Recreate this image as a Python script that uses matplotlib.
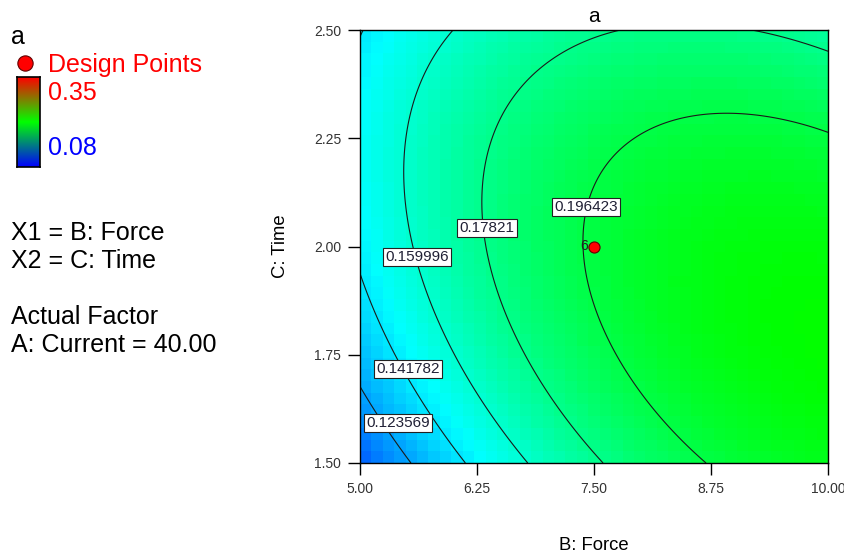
import numpy as np
import matplotlib
matplotlib.use("Agg")
import matplotlib.pyplot as plt
from matplotlib.colors import LinearSegmentedColormap
from matplotlib.lines import Line2D

plt.rcParams["font.family"] = ["Liberation Sans", "DejaVu Sans"]

# Factor ranges (actual units) and axis ticks
force_range = [5.0, 10.0]
time_range = [1.5, 2.5]
force_ticks = [5.00, 6.25, 7.50, 8.75, 10.00]
time_ticks = [1.50, 1.75, 2.00, 2.25, 2.50]

# Fitted quadratic model for response "a" in coded factors, A: Current = 40.00
# terms: intercept, B, C, BC, B^2, C^2
model_terms = ["I", "B", "C", "BC", "B2", "C2"]
model_coefs = [0.198044, 0.033710, 0.000227, -0.018007, -0.019957, -0.021579]

# Contour levels and where their labels sit (B, C)
contour_levels = [0.123569, 0.141782, 0.159996, 0.17821, 0.196423]
label_force = [5.406, 5.513, 5.609, 6.357, 7.415]
label_time = [1.592, 1.717, 1.976, 2.043, 2.091]

# Design points (center point with replicates)
design_force = [7.5]
design_time = [2.0]
design_reps = [6]

# Colour scale limits
color_low, color_high = 0.08, 0.35


def predict(force, time):
    c = dict(zip(model_terms, model_coefs))
    x1 = (force - np.mean(force_range)) / (np.diff(force_range)[0] / 2)
    x2 = (time - np.mean(time_range)) / (np.diff(time_range)[0] / 2)
    return (c["I"] + c["B"] * x1 + c["C"] * x2 + c["BC"] * x1 * x2
            + c["B2"] * x1 ** 2 + c["C2"] * x2 ** 2)


W, H = 845, 556
fig = plt.figure(figsize=(W / 100, H / 100), dpi=100)

surface_cmap = LinearSegmentedColormap.from_list(
    "surface", ["#0000ff", "#00ffff", "#00ff00", "#ffff00", "#ff0000"])
legend_cmap = LinearSegmentedColormap.from_list(
    "legend", ["#0000ff", "#00ff00", "#ff0000"])

ax = fig.add_axes([360 / W, 93 / H, 468 / W, 433 / H])

# shaded surface on a coarse grid of cells
ne_x, ne_y = 41, 37
bx = np.linspace(*force_range, ne_x + 1)
by = np.linspace(*time_range, ne_y + 1)
cx = 0.5 * (bx[:-1] + bx[1:])
cy = 0.5 * (by[:-1] + by[1:])
CX, CY = np.meshgrid(cx, cy)
ax.pcolormesh(bx, by, predict(CX, CY), cmap=surface_cmap,
              vmin=color_low, vmax=color_high, shading="flat", zorder=1)

# contour lines on a fine grid
fx = np.linspace(*force_range, 300)
fy = np.linspace(*time_range, 300)
FX, FY = np.meshgrid(fx, fy)
ax.contour(FX, FY, predict(FX, FY), levels=contour_levels,
           colors="#1a1a1a", linewidths=0.8, zorder=2)

for lvl, bxl, byl in zip(contour_levels, label_force, label_time):
    ax.text(bxl, byl, f"{lvl:g}", fontsize=11, color="#202035",
            ha="center", va="center", zorder=4,
            bbox=dict(boxstyle="square,pad=0.15", fc="white",
                      ec="#222222", lw=0.8))

# design point
ax.plot(design_force, design_time, "o", ms=8, mfc="#ff0000",
        mec="#600000", mew=0.8, zorder=5)
for f, t, n in zip(design_force, design_time, design_reps):
    ax.annotate(str(n), (f, t), xytext=(-4, 0), textcoords="offset points",
                ha="right", va="center", fontsize=10, color="#222222",
                zorder=5)

ax.set_xlim(*force_range)
ax.set_ylim(*time_range)
ax.set_xticks(force_ticks)
ax.set_yticks(time_ticks)
ax.set_xticklabels([f"{v:.2f}" for v in force_ticks])
ax.set_yticklabels([f"{v:.2f}" for v in time_ticks])
ax.tick_params(direction="out", length=8.5, width=1, colors="black",
               labelcolor="#333333", labelsize=10, pad=5)
for s in ax.spines.values():
    s.set_linewidth(1)
    s.set_color("black")

ax.set_title("a", fontsize=15, pad=6)
ax.set_xlabel("B: Force", fontsize=13.3)
ax.xaxis.set_label_coords(0.5, -0.172)
ax.set_ylabel("C: Time", fontsize=13.3)
ax.yaxis.set_label_coords(-0.152, 0.5)

# left-hand legend and factor notes
def ftext(x, y, s, **kw):
    fig.text(x / W, 1 - y / H, s, va="baseline", ha="left", **kw)

ftext(11, 44, "a", fontsize=18, color="black")
fig.add_artist(Line2D([25 / W], [1 - 63 / H], marker="o", ms=11,
                      mfc="#ff0000", mec="#600000", mew=0.8,
                      transform=fig.transFigure))
ftext(48, 72, "Design Points", fontsize=18, color="#ff0000")
ftext(48, 100, f"{color_high:.2f}", fontsize=18, color="#ff0000")
ftext(48, 155, f"{color_low:.2f}", fontsize=18, color="#0000ff")

cax = fig.add_axes([17 / W, (H - 167) / H, 23 / W, 90 / H])
cax.imshow(np.linspace(1, 0, 256).reshape(-1, 1), aspect="auto",
           cmap=legend_cmap)
cax.set_xticks([])
cax.set_yticks([])
for s in cax.spines.values():
    s.set_linewidth(1.2)
    s.set_color("black")

ftext(11, 240, "X1 = B: Force", fontsize=18, color="black")
ftext(11, 268, "X2 = C: Time", fontsize=18, color="black")
ftext(11, 324, "Actual Factor", fontsize=18, color="black")
ftext(11, 352, "A: Current = 40.00", fontsize=18, color="black")

fig.savefig("out.png", dpi=100)
